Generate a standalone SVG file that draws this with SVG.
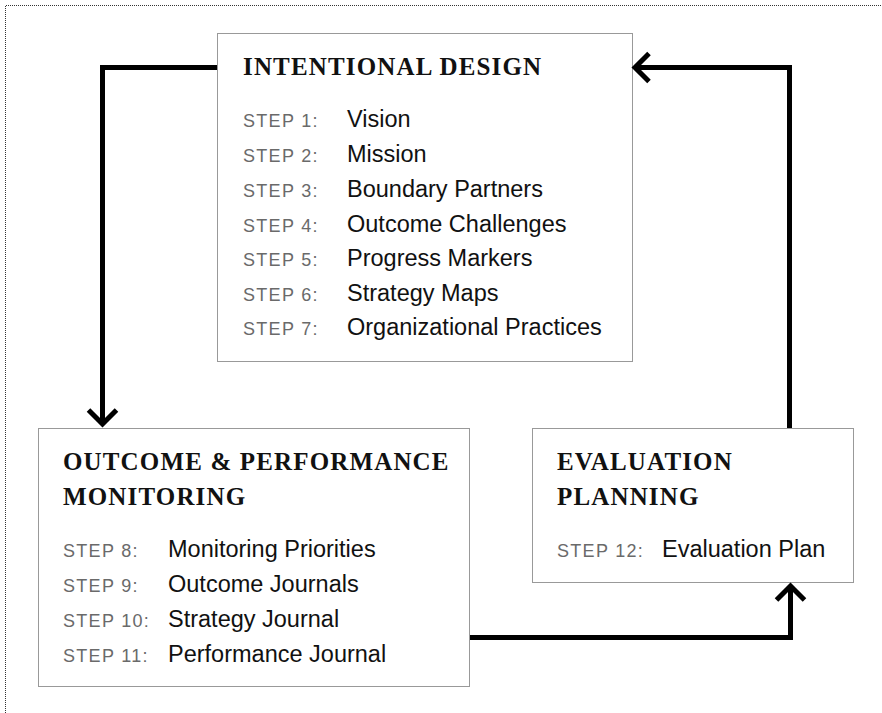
<svg xmlns="http://www.w3.org/2000/svg" width="882" height="713" viewBox="0 0 882 713">
<style>
.frame{fill:none;stroke:#333;stroke-width:1;stroke-dasharray:1 1}
.box{fill:#fff;stroke:#333;stroke-width:1;stroke-dasharray:1 1}
.title{font-family:"Liberation Serif","DejaVu Serif",serif;font-weight:bold;font-size:25px;letter-spacing:1.15px;fill:#111}
.step{font-family:"Liberation Sans","DejaVu Sans",sans-serif;font-size:18px;letter-spacing:1.3px;fill:#6a6a6a}
.item{font-family:"Liberation Sans","DejaVu Sans",sans-serif;font-size:23.5px;fill:#111}
.conn{fill:none;stroke:#000;stroke-width:5;stroke-linejoin:miter}
</style>
<defs>
<marker id="arr" viewBox="-20 -20 40 40" markerWidth="40" markerHeight="40" refX="0" refY="0" orient="auto" markerUnits="userSpaceOnUse">
<path d="M-14,-14 L0,0 L-14,14" fill="none" stroke="#000" stroke-width="5"/>
</marker>
</defs>
<rect width="882" height="713" fill="#fff"/>
<path class="frame" d="M5.5,713 V5.5 H882"/>

<g id="intentional-design">
<rect class="box" x="217.5" y="33.5" width="415" height="328"/>
<text class="title" x="243" y="74.5">INTENTIONAL DESIGN</text>
<text class="step" x="243" y="127">STEP 1:</text><text class="item" x="347" y="127">Vision</text>
<text class="step" x="243" y="162">STEP 2:</text><text class="item" x="347" y="162">Mission</text>
<text class="step" x="243" y="197">STEP 3:</text><text class="item" x="347" y="197">Boundary Partners</text>
<text class="step" x="243" y="232">STEP 4:</text><text class="item" x="347" y="232">Outcome Challenges</text>
<text class="step" x="243" y="266">STEP 5:</text><text class="item" x="347" y="266">Progress Markers</text>
<text class="step" x="243" y="301">STEP 6:</text><text class="item" x="347" y="301">Strategy Maps</text>
<text class="step" x="243" y="335">STEP 7:</text><text class="item" x="347" y="335">Organizational Practices</text>
</g>

<g id="outcome-performance-monitoring">
<rect class="box" x="38.5" y="428.5" width="431" height="258"/>
<text class="title" x="63" y="470">OUTCOME &amp; PERFORMANCE</text>
<text class="title" x="63" y="505">MONITORING</text>
<text class="step" x="63" y="557">STEP 8:</text><text class="item" x="168" y="557">Monitoring Priorities</text>
<text class="step" x="63" y="592">STEP 9:</text><text class="item" x="168" y="592">Outcome Journals</text>
<text class="step" x="63" y="627">STEP 10:</text><text class="item" x="168" y="627">Strategy Journal</text>
<text class="step" x="63" y="662">STEP 11:</text><text class="item" x="168" y="662">Performance Journal</text>
</g>

<g id="evaluation-planning">
<rect class="box" x="532.5" y="428.5" width="321" height="154"/>
<text class="title" x="557" y="470">EVALUATION</text>
<text class="title" x="557" y="505">PLANNING</text>
<text class="step" x="557" y="557">STEP 12:</text><text class="item" x="662" y="557">Evaluation Plan</text>
</g>

<g id="connectors">
<path class="conn" d="M217,67.5 H102.5 V424" marker-end="url(#arr)"/>
<path class="conn" d="M470,637.5 H790.5 V586" marker-end="url(#arr)"/>
<path class="conn" d="M789.5,428 V67.5 H635" marker-end="url(#arr)"/>
</g>
</svg>
